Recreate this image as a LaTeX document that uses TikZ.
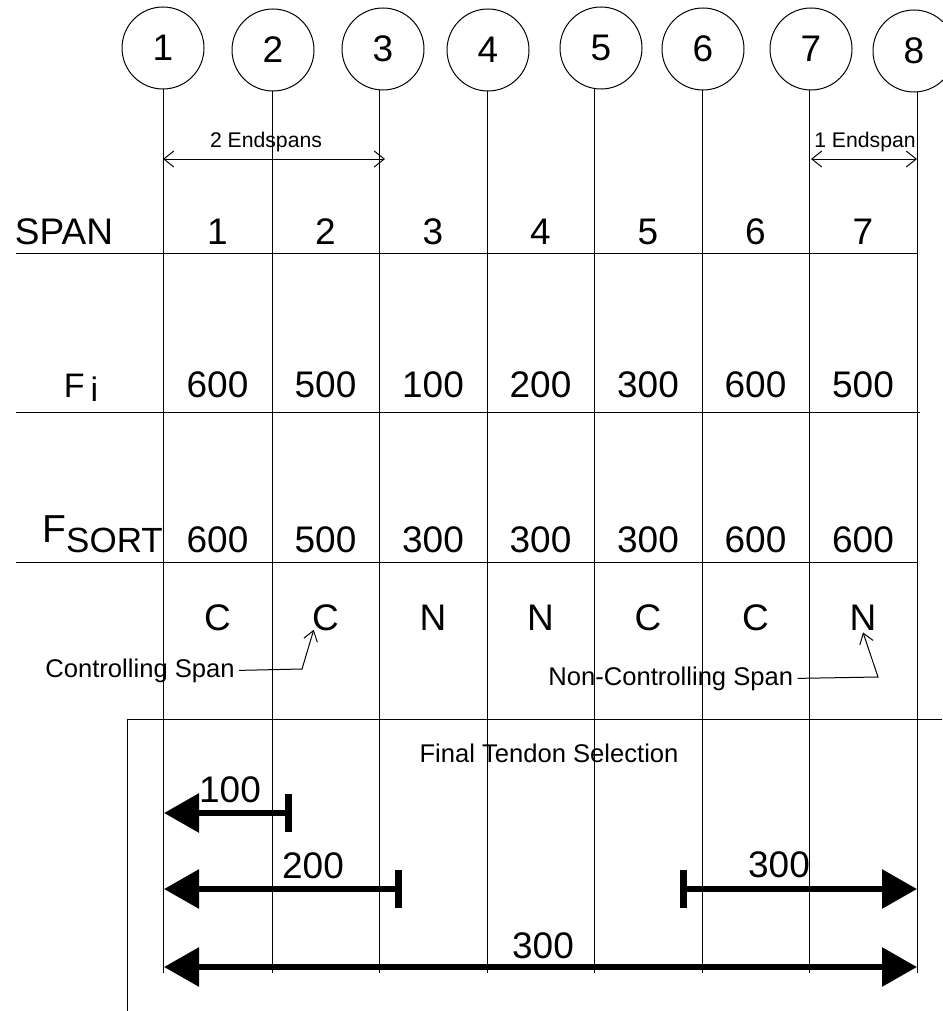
\documentclass[tikz,border=0pt]{standalone}
\usepackage{fontspec}
\setmainfont{Liberation Sans}
\usetikzlibrary{arrows.meta}

\tikzset{
  gridcircle/.style={circle, draw, line width=0.5pt, minimum size=41pt, inner sep=0pt, font=\fontsize{18.5}{20}\selectfont},
  cell/.style={anchor=base, inner sep=1pt, font=\fontsize{18.5}{20}\selectfont},
  note/.style={inner sep=2pt, font=\fontsize{12.8}{14}\selectfont},
  tag/.style={anchor=base, inner sep=0pt, font=\fontsize{10.6}{12}\selectfont},
  gridline/.style={line width=0.5pt},
  endspan/.style={line width=0.5pt, arrows={Straight Barb[length=5pt,width=8pt]-Straight Barb[length=5pt,width=8pt]}},
  leader/.style={line width=0.5pt, arrows={-Straight Barb[length=5pt,width=7pt]}},
  tendon/.style={line width=3pt, arrows={Bar[width=19pt,line width=3.5pt]-Triangle[length=17.5pt,width=19pt]}},
  fulltendon/.style={line width=3pt, arrows={Triangle[length=17.5pt,width=19pt]-Triangle[length=17.5pt,width=19pt]}},
}

\begin{document}
\begin{tikzpicture}[x=0.5pt, y=-0.5pt]
                \useasboundingbox (0,0) rectangle (942,1011);

                % Grid circles
                \node[gridcircle] (c1) at (163,48) {1};
                \node[gridcircle] (c2) at (273,50) {2};
                \node[gridcircle] (c3) at (383,49) {3};
                \node[gridcircle] (c4) at (488,50) {4};
                \node[gridcircle] (c5) at (601,48) {5};
                \node[gridcircle] (c6) at (703,49) {6};
                \node[gridcircle] (c7) at (811,49) {7};
                \node[gridcircle] (c8) at (914,51) {8};

                % Grid lines
                \foreach \i/\x in {1/163,2/272,3/379,4/487,5/594,6/702,7/809,8/917} {
                    \coordinate (b\i) at (\x,973);
                    \draw[gridline] (c\i.south -| b\i) -- (b\i);
                }
                \draw[gridline] (16,253) -- (917,253);
                \draw[gridline] (16,412) -- (920,412);
                \draw[gridline] (16,562) -- (917,562);

                % Endspans
                \node[tag] (two) at (266,148) {2 Endspans};
                \coordinate (ea) at (163,159);
                \coordinate (eb) at (385,159);
                \draw[endspan] (ea) -- (eb);
                \node[tag] (one) at (865,148) {1 Endspan};
                \coordinate (ec) at (811,159);
                \coordinate (ed) at (917,159);
                \draw[endspan] (ec) -- (ed);

                % Table
                \node[cell] (span) at (64,244) {SPAN};
                \node[cell, font=\fontsize{17}{18}\selectfont] (fi) at (81,397) {F\hspace{3pt}\raisebox{-2pt}{i}};
                \node[cell, anchor=base west, font=\fontsize{19.5}{20}\selectfont] (fsort) at (40,542) {F\raisebox{-5pt}{\fontsize{17.5}{18}\selectfont SORT}};
                \foreach \i/\x/\vi/\vs/\vc in {1/217.5/600/600/C, 2/325.5/500/500/C, 3/433/100/300/N, 4/540.5/200/300/N,
                                               5/648/300/300/C, 6/755.5/600/600/C, 7/863/500/600/N} {
                    \node[cell] (s\i) at (\x,244) {\i};
                    \node[cell] (f\i) at (\x,397) {\vi};
                    \node[cell] (g\i) at (\x,552) {\vs};
                    \node[cell] (k\i) at (\x,630) {\vc};
                }

                % Notes
                \node[note, anchor=base west] (ctl) at (41,677) {Controlling Span};
                \draw[leader] (ctl.east) -- (302,669) -- ([shift={(4,-3)}]k2.south west);
                \node[note, anchor=base west] (nctl) at (544,685) {Non-Controlling Span};
                \draw[leader] (nctl.east) -- (878,677) -- (k7.south);

                % Final tendon selection
                \coordinate (fa) at (942,719);
                \coordinate (fb) at (127,719);
                \coordinate (fc) at (127,1011);
                \draw[gridline] (fa) -- (fb) -- (fc);
                \node[note, anchor=base] (fts) at (549,762) {Final Tendon Selection};

                \coordinate (t1a) at (292,813);
                \coordinate (t1b) at (164,813);
                \coordinate (t2a) at (402,889);
                \coordinate (t2b) at (164,889);
                \coordinate (t3a) at (680,889);
                \coordinate (t3b) at (917,889);
                \coordinate (t4a) at (164,967);
                \coordinate (t4b) at (917,967);
                \draw[tendon] (t1a) -- (t1b);
                \draw[tendon] (t2a) -- (t2b);
                \draw[tendon] (t3a) -- (t3b);
                \draw[fulltendon] (t4a) -- (t4b);
                \node[cell] (l1) at (230,802) {100};
                \node[cell] (l2) at (313,878) {200};
                \node[cell] (l3) at (779,877) {300};
                \node[cell] (l4) at (543,958) {300};
            \end{tikzpicture}
\end{document}
